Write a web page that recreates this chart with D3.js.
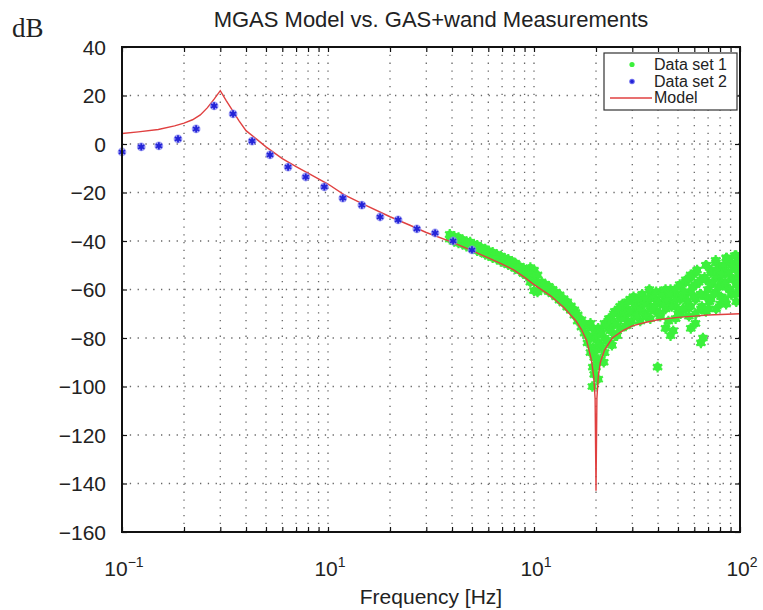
<!DOCTYPE html>
<html>
<head>
<meta charset="utf-8">
<script src="https://cdn.jsdelivr.net/npm/d3@7"></script>
<style>
  body { margin: 0; background: #fff; }
  text { font-family: 'Liberation Sans', Arial, sans-serif; fill: #222; }
</style>
</head>
<body>
<script>
// Model curve
const modelFreq = [0.1, 0.12, 0.15, 0.18, 0.2, 0.22, 0.24, 0.26, 0.28, 0.3, 0.32, 0.34, 0.37, 0.4, 0.45, 0.5,
  0.6, 0.7, 0.8, 1.0, 1.2, 1.5, 2, 2.5, 3, 4, 5, 6, 7, 8, 9, 10, 12, 14, 16, 17, 18, 19, 19.5, 19.8, 20,
  20.2, 20.5, 21, 22, 24, 27, 30, 35, 40, 50, 60, 70, 100];
const modelDb = [4.3, 5, 6, 7.5, 8.6, 10, 12, 15, 18.5, 22, 18, 14.5, 9.5, 5.5, 2, -1.2,
  -6, -9.3, -12, -16.5, -21, -25, -30, -33.5, -36.5, -40.5, -44, -47, -49.5, -52, -55, -58, -62.5, -67.5, -73, -76.5, -81, -89, -96, -105, -143,
  -105, -96, -90, -85, -80, -77, -75, -73.5, -72.5, -71.5, -71, -70.5, -70];

// Data set 2 (blue)
const set2Freq = [0.1, 0.124, 0.151, 0.187, 0.229, 0.28, 0.346, 0.428, 0.523, 0.64, 0.78, 0.96, 1.18, 1.46,
  1.79, 2.19, 2.7, 3.31, 4.05, 5.0];
const set2Db = [-3.3, -1.2, -0.8, 2.1, 6.2, 15.7, 12.4, 1.2, -4.5, -9.5, -13.6, -17.7, -22.3, -25.2,
  -30.1, -31.3, -35, -36.7, -40, -43.7];

// Data set 1 (green), [Hz, dB]
const set1 = [
  [3.9, -37.3], [3.9, -39.2], [4.1, -38.1], [4.1, -40.2], [4.3, -38.6], [4.3, -40.8], [4.5, -39.5], [4.5, -41.3],
  [4.7, -40.2], [4.7, -42.1], [4.9, -40.5], [4.9, -42.7], [5.1, -41.4], [5.1, -43.2], [5.3, -41.8], [5.3, -44],
  [5.5, -42.6], [5.5, -44.4], [5.8, -43.3], [5.8, -45.5], [6.0, -44.1], [6.0, -45.9], [6.3, -44.7], [6.3, -46.9],
  [6.6, -45.6], [6.6, -47.4], [6.9, -46.2], [6.9, -48.4], [7.2, -47.1], [7.2, -48.9], [7.5, -47.6], [7.5, -49.8],
  [7.8, -48.4], [7.8, -50.2], [8.1, -49.1], [8.1, -51.3], [8.5, -50.4], [8.5, -52.2], [8.9, -51.3], [8.9, -53.5],
  [9.2, -52.4], [9.2, -54.2], [9.6, -51], [9.6, -54], [9.6, -57], [10, -52], [10, -56], [10, -60.5],
  [10.4, -54], [10.4, -57], [10.4, -61], [10.9, -57], [10.9, -59.1], [11.3, -57.8], [11.3, -59.7],
  [11.8, -58.7], [11.8, -60.9], [12.3, -59.9], [12.3, -61.8], [12.8, -61.2], [12.8, -63], [13.3, -62.2], [13.3, -64.4],
  [13.9, -63.8], [13.9, -65.6], [14.5, -65.1], [14.5, -67.3], [15.1, -66.8], [15.1, -68.6], [15.7, -68.4], [15.7, -70.6],
  [16.3, -70.5], [16.3, -73], [17, -72.5], [17, -75.5], [17.6, -74.5], [17.6, -78], [18.2, -75], [18.2, -79], [18.2, -82],
  [18.8, -74], [18.8, -80], [18.8, -86], [19.3, -76], [19.3, -84], [19.3, -92], [19.2, -100],
  [19.6, -80], [19.6, -88], [19.6, -95], [20, -79], [20, -85], [20, -92], [20.5, -76], [20.5, -82], [20.5, -89], [20.5, -97],
  [21, -77], [21, -83], [21, -89], [22, -74], [22, -80], [22, -86], [23.4, -72], [23.4, -76], [23.4, -82],
  [24.7, -69], [24.7, -74], [24.7, -79], [26.2, -67], [26.2, -71], [26.2, -76], [27.7, -68], [27.7, -72],
  [29.3, -64], [29.3, -69], [29.3, -74], [31, -66], [31, -70], [32.8, -63], [32.8, -68], [32.8, -73],
  [34.7, -65], [34.7, -70], [36.7, -62], [36.7, -67], [36.7, -72], [38.9, -64], [38.9, -69], [39.8, -92],
  [41, -61], [41, -66], [41, -71], [43.5, -63], [43.5, -68], [43.5, -76], [46, -60], [46, -65], [46, -79],
  [48.7, -62], [48.7, -67], [48.7, -72], [51.5, -59], [51.5, -64], [51.5, -70], [54.5, -57], [54.5, -63], [54.5, -68],
  [57.7, -55], [57.7, -61], [57.7, -67], [57.7, -76], [61, -53], [61, -58], [61, -64], [61, -70],
  [64.6, -56], [64.6, -62], [64.6, -68], [64.6, -82], [68.3, -50], [68.3, -56], [68.3, -63], [68.3, -69],
  [72.3, -52], [72.3, -58], [72.3, -64], [76.5, -49], [76.5, -55], [76.5, -61], [76.5, -68],
  [80.9, -51], [80.9, -57], [80.9, -63], [85.6, -47], [85.6, -53], [85.6, -59], [85.6, -66],
  [90.6, -49], [90.6, -55], [90.6, -62], [95.9, -46], [95.9, -52], [95.9, -58], [95.9, -65],
  [99, -48], [99, -54], [99, -61],
  // scattered readings between the rows above
  [21.2, -78], [21.5, -84], [21.8, -90], [22.3, -75], [22.6, -81], [23.1, -72], [23.5, -77], [23.9, -83],
  [24.4, -70], [24.9, -74], [25.3, -79], [25.8, -68], [26.4, -72], [26.9, -66], [27.5, -70], [27.9, -75],
  [28.6, -65], [29.1, -69], [29.8, -73], [30.4, -63], [31.1, -67], [31.6, -71], [32.2, -64], [32.9, -68],
  [33.5, -62], [34.2, -66], [34.9, -71], [35.6, -64], [36.3, -60], [36.9, -68], [37.7, -63], [38.4, -67],
  [39.2, -61], [40.1, -65], [40.9, -70], [41.8, -62], [42.6, -66], [43.5, -60], [44.2, -64], [44.9, -73],
  [45.8, -62], [46.6, -67], [47.4, -77], [48.3, -60], [49.1, -64], [50.0, -70], [51.0, -58], [51.9, -63],
  [52.8, -68], [53.7, -61], [54.6, -56], [55.5, -65], [56.5, -71], [57.6, -54], [58.6, -59], [59.7, -63],
  [60.8, -74], [61.9, -52], [63.0, -57], [64.2, -62], [65.3, -67], [66.1, -80], [67.3, -55], [68.6, -50],
  [69.8, -60], [71.0, -65], [72.3, -53], [73.6, -57], [74.9, -62], [76.2, -48], [77.6, -52], [79.0, -59],
  [80.4, -66], [81.8, -54], [83.3, -50], [84.8, -57], [86.3, -47], [87.9, -53], [89.5, -60], [91.1, -50],
  [92.7, -56], [94.4, -46], [96.1, -51], [97.8, -58], [99.5, -48], [99.5, -56], [70, -68], [85, -64], [95, -62],
  [4.2, -39.4], [4.8, -41.5], [5.6, -43.6], [6.4, -45.8], [7.3, -48], [8.3, -50.8], [9.4, -53.6],
  [11.1, -58.6], [12.6, -61.9], [14.2, -65.4], [15.9, -69.5], [17.3, -74]
];

const yTicks = [40, 20, 0, -20, -40, -60, -80, -100, -120, -140, -160];
const xDecades = [0.1, 1, 10, 100];
const xDecadeExp = ['\u22121', '1', '1', '2'];
const legendItems = ['Data set 1', 'Data set 2', 'Model'];
const titleText = 'MGAS Model vs. GAS+wand Measurements';

const GREEN = '#3cf03c';
const BLUE = '#2424d8';
const RED = '#e04040';

function drawViz() {
  const W = 763, H = 610;
  const margin = {top: 47, right: 23, bottom: 78, left: 122};
  const width = W - margin.left - margin.right;
  const height = H - margin.top - margin.bottom;

  const svg = d3.select('body').append('svg').attr('width', W).attr('height', H);

  const x = d3.scaleLog().domain([0.1, 100]).range([margin.left, margin.left + width]);
  const y = d3.scaleLinear().domain([-160, 40]).range([margin.top + height, margin.top]);

  svg.append('clipPath').attr('id', 'plot')
    .append('rect')
    .attr('x', margin.left).attr('y', margin.top)
    .attr('width', width).attr('height', height);

  // dotted grid
  const grid = svg.append('g').attr('stroke', '#666').attr('stroke-width', 1.3)
    .attr('stroke-dasharray', '1.3,6.5');
  grid.selectAll('.vg')
    .data(x.ticks().filter(d => d > 0.1 && d < 100))
    .join('line')
    .attr('x1', d => x(d)).attr('x2', d => x(d))
    .attr('y1', margin.top).attr('y2', margin.top + height);
  grid.selectAll('.hg')
    .data(yTicks.filter(d => d > -160 && d < 40))
    .join('line')
    .attr('x1', margin.left).attr('x2', margin.left + width)
    .attr('y1', d => y(d)).attr('y2', d => y(d));

  // tick marks (inward) on all four sides
  const tickStyle = g => {
    g.select('.domain').remove();
    g.selectAll('.tick line').attr('stroke', '#111').attr('stroke-width', 1.2);
    g.selectAll('.tick text').remove();
  };
  svg.append('g').attr('transform', `translate(0,${margin.top + height})`)
    .call(d3.axisBottom(x).tickValues(x.ticks()).tickSize(-5)).call(tickStyle);
  svg.append('g').attr('transform', `translate(0,${margin.top})`)
    .call(d3.axisTop(x).tickValues(x.ticks()).tickSize(-5)).call(tickStyle);
  svg.append('g').attr('transform', `translate(${margin.left},0)`)
    .call(d3.axisLeft(y).tickValues(yTicks).tickSize(-5)).call(tickStyle);
  svg.append('g').attr('transform', `translate(${margin.left + width},0)`)
    .call(d3.axisRight(y).tickValues(yTicks).tickSize(-5)).call(tickStyle);

  const plot = svg.append('g').attr('clip-path', 'url(#plot)');

  // Data set 1
  const star = d3.symbol().type(d3.symbolAsterisk).size(80);
  const g1 = plot.append('g');
  g1.selectAll('circle')
    .data(set1)
    .join('circle')
    .attr('cx', d => x(d[0])).attr('cy', d => y(d[1]))
    .attr('r', 4)
    .attr('fill', GREEN);
  g1.selectAll('path')
    .data(set1)
    .join('path')
    .attr('transform', d => `translate(${x(d[0])},${y(d[1])})`)
    .attr('d', star)
    .attr('stroke', GREEN).attr('stroke-width', 2.2).attr('fill', 'none');

  // Model
  const modelPts = modelFreq.map((f, i) => [f, modelDb[i]]);
  plot.append('path')
    .datum(modelPts)
    .attr('fill', 'none')
    .attr('stroke', RED)
    .attr('stroke-width', 1.4)
    .attr('d', d3.line().x(d => x(d[0])).y(d => y(d[1])));

  // Data set 2
  const set2Pts = set2Freq.map((f, i) => [f, set2Db[i]]);
  const g2 = svg.append('g');
  g2.selectAll('circle')
    .data(set2Pts)
    .join('circle')
    .attr('cx', d => x(d[0])).attr('cy', d => y(d[1]))
    .attr('r', 4.4)
    .attr('fill', '#8f8ff2').attr('opacity', 0.8);
  g2.selectAll('path')
    .data(set2Pts)
    .join('path')
    .attr('transform', d => `translate(${x(d[0])},${y(d[1])})`)
    .attr('d', d3.symbol().type(d3.symbolAsterisk).size(36))
    .attr('stroke', BLUE).attr('stroke-width', 1.8).attr('fill', 'none');

  // frame
  svg.append('rect')
    .attr('x', margin.left).attr('y', margin.top)
    .attr('width', width).attr('height', height)
    .attr('fill', 'none').attr('stroke', '#111').attr('stroke-width', 2);

  // y tick labels
  svg.selectAll('.ylab')
    .data(yTicks)
    .join('text')
    .attr('x', 106).attr('y', d => y(d))
    .attr('dy', '0.36em')
    .attr('text-anchor', 'end')
    .style('font-size', '21px')
    .text(d => d < 0 ? '\u2212' + Math.abs(d) : d);

  // x tick labels
  const xl = svg.selectAll('.xlab')
    .data(xDecades)
    .join('text')
    .attr('x', d => x(d) + 2).attr('y', 576)
    .attr('text-anchor', 'middle')
    .style('font-size', '21px');
  xl.append('tspan').text('10');
  xl.append('tspan').attr('dy', -9).style('font-size', '14px').text((d, i) => xDecadeExp[i]);

  svg.append('text')
    .attr('x', margin.left + width / 2).attr('y', 604)
    .attr('text-anchor', 'middle')
    .style('font-size', '21px')
    .text('Frequency [Hz]');

  svg.append('text')
    .attr('x', 431).attr('y', 27)
    .attr('text-anchor', 'middle')
    .style('font-size', '22px')
    .text(titleText);

  svg.append('text')
    .attr('x', 12).attr('y', 37)
    .style('font-family', "'Liberation Serif', 'Times New Roman', serif")
    .style('font-size', '27px')
    .text('dB');

  // legend
  const lg = svg.append('g');
  lg.append('rect')
    .attr('x', 604).attr('y', 53).attr('width', 133).attr('height', 57)
    .attr('fill', '#fff').attr('stroke', '#333').attr('stroke-width', 1.2);
  const rows = [64.5, 81.5, 98];
  lg.append('circle').attr('cx', 632).attr('cy', rows[0]).attr('r', 2.6).attr('fill', GREEN);
  lg.append('circle').attr('cx', 632).attr('cy', rows[1]).attr('r', 2.8).attr('fill', '#7070ee');
  lg.append('circle').attr('cx', 632).attr('cy', rows[1]).attr('r', 1.8).attr('fill', BLUE);
  lg.append('line').attr('x1', 610).attr('x2', 652).attr('y1', rows[2]).attr('y2', rows[2])
    .attr('stroke', RED).attr('stroke-width', 1.4);
  lg.selectAll('.lt')
    .data(legendItems)
    .join('text')
    .attr('x', 654).attr('y', (d, i) => rows[i])
    .attr('dy', '0.34em')
    .style('font-size', '16px')
    .text(d => d);
}

drawViz();
</script>
</body>
</html>
